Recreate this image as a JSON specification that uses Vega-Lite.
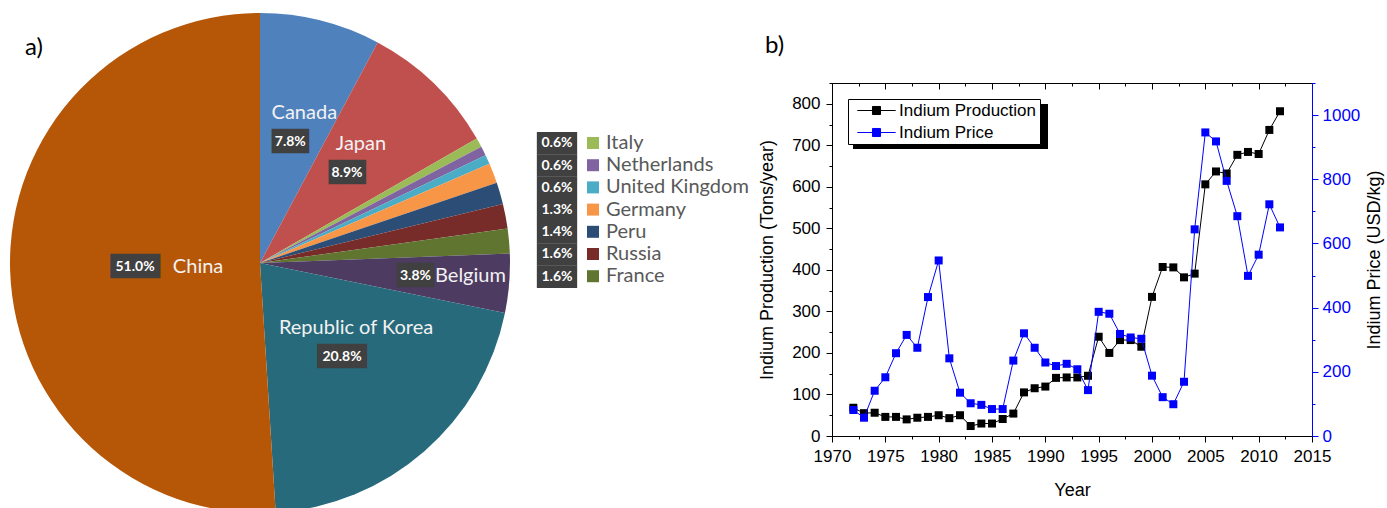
{
  "$schema": "https://vega.github.io/schema/vega-lite/v6.json",
  "background": "white",
  "padding": {"left": 10, "top": 13, "right": 0, "bottom": 0},
  "bounds": "flush",
  "spacing": 255,
  "config": {
    "view": {"stroke": null},
    "font": "Liberation Sans",
    "axis": {
      "labelFont": "Liberation Sans", "labelFontSize": 17, "labelColor": "black",
      "titleFont": "Liberation Sans", "titleFontSize": 18, "titleFontWeight": "normal", "titleColor": "black",
      "domainColor": "black", "tickColor": "black", "grid": false, "labelOverlap": false, "labelFlush": false,
      "domainWidth": 1, "tickWidth": 1
    }
  },
  "resolve": {"scale": {"color": "independent", "stroke": "independent"}, "legend": {"color": "independent", "stroke": "independent"}},
  "datasets": {
    "pie": [
      {"rank": 1, "country": "Canada", "share": 7.8, "label": "7.8%"},
      {"rank": 2, "country": "Japan", "share": 8.9, "label": "8.9%"},
      {"rank": 3, "country": "Italy", "share": 0.6, "label": "0.6%"},
      {"rank": 4, "country": "Netherlands", "share": 0.6, "label": "0.6%"},
      {"rank": 5, "country": "United Kingdom", "share": 0.6, "label": "0.6%"},
      {"rank": 6, "country": "Germany", "share": 1.3, "label": "1.3%"},
      {"rank": 7, "country": "Peru", "share": 1.4, "label": "1.4%"},
      {"rank": 8, "country": "Russia", "share": 1.6, "label": "1.6%"},
      {"rank": 9, "country": "France", "share": 1.6, "label": "1.6%"},
      {"rank": 10, "country": "Belgium", "share": 3.8, "label": "3.8%"},
      {"rank": 11, "country": "Republic of Korea", "share": 20.8, "label": "20.8%"},
      {"rank": 12, "country": "China", "share": 51.0, "label": "51.0%"}
    ],
    "indium": [
      {"year": 1972, "production": 68, "price": 81},
      {"year": 1973, "production": 55, "price": 57},
      {"year": 1974, "production": 56, "price": 141},
      {"year": 1975, "production": 46, "price": 183},
      {"year": 1976, "production": 46, "price": 258},
      {"year": 1977, "production": 40, "price": 315},
      {"year": 1978, "production": 44, "price": 275},
      {"year": 1979, "production": 46, "price": 433},
      {"year": 1980, "production": 50, "price": 547},
      {"year": 1981, "production": 43, "price": 242},
      {"year": 1982, "production": 50, "price": 135},
      {"year": 1983, "production": 24, "price": 102},
      {"year": 1984, "production": 30, "price": 97},
      {"year": 1985, "production": 30, "price": 84},
      {"year": 1986, "production": 41, "price": 84},
      {"year": 1987, "production": 54, "price": 235},
      {"year": 1988, "production": 105, "price": 320},
      {"year": 1989, "production": 115, "price": 275},
      {"year": 1990, "production": 119, "price": 229},
      {"year": 1991, "production": 140, "price": 218},
      {"year": 1992, "production": 141, "price": 225},
      {"year": 1993, "production": 141, "price": 208},
      {"year": 1994, "production": 145, "price": 143},
      {"year": 1995, "production": 239, "price": 387},
      {"year": 1996, "production": 200, "price": 381},
      {"year": 1997, "production": 231, "price": 318},
      {"year": 1998, "production": 231, "price": 307},
      {"year": 1999, "production": 215, "price": 303},
      {"year": 2000, "production": 335, "price": 188},
      {"year": 2001, "production": 407, "price": 121},
      {"year": 2002, "production": 406, "price": 99},
      {"year": 2003, "production": 382, "price": 169},
      {"year": 2004, "production": 391, "price": 644},
      {"year": 2005, "production": 606, "price": 946},
      {"year": 2006, "production": 637, "price": 918},
      {"year": 2007, "production": 632, "price": 795},
      {"year": 2008, "production": 677, "price": 685},
      {"year": 2009, "production": 684, "price": 499},
      {"year": 2010, "production": 679, "price": 565},
      {"year": 2011, "production": 737, "price": 722},
      {"year": 2012, "production": 782, "price": 650}
    ]
  },
  "hconcat": [
    {
      "width": 44,
      "height": 360,
      "data": {"name": "pie"},
      "title": {"text": "a)", "anchor": "start", "frame": "group", "font": "Lato", "fontSize": 24, "fontWeight": "normal", "color": "black", "baseline": "bottom", "offset": 23, "dx": -213, "dy": 94},
      "encoding": {
        "theta": {"field": "share", "type": "quantitative", "stack": true},
        "order": {"field": "rank", "type": "quantitative"}
      },
      "layer": [
        {
          "mark": {"type": "arc", "radius": 250},
          "encoding": {
            "color": {
              "field": "country", "type": "nominal",
              "scale": {
                "domain": ["Canada", "Japan", "Italy", "Netherlands", "United Kingdom", "Germany", "Peru", "Russia", "France", "Belgium", "Republic of Korea", "China"],
                "range": ["#4F81BD", "#C0504D", "#9BBB59", "#8064A2", "#4BACC6", "#F79646", "#2C4D75", "#772C2A", "#5F7530", "#4D3B62", "#276A7C", "#B65708"]
              },
              "legend": {
                "values": ["Italy", "Netherlands", "United Kingdom", "Germany", "Peru", "Russia", "France"],
                "orient": "none", "legendX": 345, "legendY": 50, "title": null,
                "symbolType": "square", "symbolSize": 144, "symbolStrokeWidth": 0,
                "labelFont": "Lato", "labelFontSize": 20, "labelColor": "#595959",
                "labelOffset": 3, "rowPadding": 2.2, "padding": 0
              }
            }
          }
        },
        {
          "mark": {"type": "text", "radius": 125, "font": "DejaVu Sans Mono", "fontSize": 20.6, "color": "#404040", "baseline": "middle", "align": "center"},
          "encoding": {"text": {"condition": [{"test": "datum.rank >= 11", "value": "████"}, {"test": "datum.rank <= 2", "value": "███"}], "value": ""}}
        },
        {
          "mark": {"type": "text", "radius": 125, "font": "Lato", "fontWeight": "bold", "fontSize": 14, "color": "white", "baseline": "middle", "align": "center"},
          "encoding": {"text": {"condition": {"test": "datum.rank <= 2 || datum.rank >= 11", "field": "label", "type": "nominal"}, "value": ""}}
        },
        {
          "mark": {"type": "text", "radius": 156, "font": "DejaVu Sans Mono", "fontSize": 20.6, "color": "#404040", "baseline": "middle", "align": "center"},
          "encoding": {"text": {"condition": {"test": "datum.rank == 10", "value": "███"}, "value": ""}}
        },
        {
          "mark": {"type": "text", "radius": 156, "font": "Lato", "fontWeight": "bold", "fontSize": 14, "color": "white", "baseline": "middle", "align": "center"},
          "encoding": {"text": {"condition": {"test": "datum.rank == 10", "field": "label", "type": "nominal"}, "value": ""}}
        },
        {
          "mark": {"type": "text", "radius": 125, "dx": 14, "dy": -29, "font": "Lato", "fontSize": 20, "color": "#F2F2F2", "baseline": "middle", "align": "center"},
          "encoding": {"text": {"condition": {"test": "datum.rank <= 2 || datum.rank == 11", "field": "country", "type": "nominal"}, "value": ""}}
        },
        {
          "mark": {"type": "text", "radius": 125, "dx": 63, "font": "Lato", "fontSize": 20, "color": "#F2F2F2", "baseline": "middle", "align": "center"},
          "encoding": {"text": {"condition": {"test": "datum.rank == 12", "field": "country", "type": "nominal"}, "value": ""}}
        },
        {
          "mark": {"type": "text", "radius": 156, "dx": 55, "font": "Lato", "fontSize": 20, "color": "#F2F2F2", "baseline": "middle", "align": "center"},
          "encoding": {"text": {"condition": {"test": "datum.rank == 10", "field": "country", "type": "nominal"}, "value": ""}}
        }
      ]
    },
    {
      "width": 40,
      "height": 253,
      "data": {"name": "pie"},
      "transform": [{"filter": "datum.share < 2"}],
      "encoding": {
        "y": {"field": "rank", "type": "quantitative", "scale": {"domain": [0.287, 11.668], "reverse": true, "nice": false, "zero": false}, "axis": null}
      },
      "layer": [
        {
          "mark": {"type": "point", "shape": "M-1.8,-1H1.8V1H-1.8Z", "size": 502, "filled": true, "fill": "#404040", "opacity": 1, "strokeWidth": 0},
          "encoding": {
            "stroke": {
              "field": "rank", "type": "quantitative",
              "scale": {"range": ["#000000", "#000000"]},
              "legend": {
                "type": "gradient", "direction": "horizontal", "orient": "none",
                "legendX": 316, "legendY": 21, "title": null, "padding": 0,
                "gradientLength": 195, "gradientThickness": 45, "gradientStrokeWidth": 0,
                "labelExpr": "''", "labelFontSize": 1, "labelOffset": 0
              }
            }
          }
        },
        {
          "mark": {"type": "text", "font": "Lato", "fontWeight": "bold", "fontSize": 14, "color": "white", "baseline": "middle", "align": "center"},
          "encoding": {"text": {"field": "label", "type": "nominal"}}
        }
      ]
    },
    {
      "width": 480,
      "height": 353,
      "data": {"name": "indium"},
      "view": {"stroke": "black", "strokeWidth": 1},
      "title": {"text": "b)", "anchor": "start", "frame": "group", "font": "Lato", "fontSize": 24, "fontWeight": "normal", "color": "black", "baseline": "bottom", "offset": 24, "dx": -67, "dy": 32},
      "layer": [
        {
          "encoding": {
            "x": {
              "field": "year", "type": "quantitative",
              "scale": {"domain": [1970, 2015], "nice": false, "zero": false},
              "axis": {
                "orient": "bottom", "title": "Year", "format": "d",
                "values": [1970, 1972.5, 1975, 1977.5, 1980, 1982.5, 1985, 1987.5, 1990, 1992.5, 1995, 1997.5, 2000, 2002.5, 2005, 2007.5, 2010, 2012.5, 2015],
                "labelExpr": "datum.value % 5 === 0 ? datum.label : ''",
                "tickSize": {"condition": {"test": "datum.value % 5 === 0", "value": 6}, "value": 3},
                "labelPadding": 6, "titlePadding": 17
              }
            },
            "y": {
              "field": "production", "type": "quantitative",
              "scale": {"domain": [0, 850], "nice": false},
              "axis": {
                "orient": "left", "title": "Indium Production (Tons/year)", "format": "d",
                "values": [0, 50, 100, 150, 200, 250, 300, 350, 400, 450, 500, 550, 600, 650, 700, 750, 800, 850],
                "labelExpr": "datum.value % 100 === 0 ? datum.label : ''",
                "tickSize": {"condition": {"test": "datum.value % 100 === 0", "value": 6}, "value": 3},
                "labelPadding": 6, "titlePadding": 15.5
              }
            },
            "color": {
              "datum": "Indium Production", "type": "nominal",
              "scale": {"domain": ["Indium Production", "Indium Price"], "range": ["#000000", "#0000ff"]},
              "legend": {
                "title": null, "orient": "none", "legendX": 16, "legendY": 16,
                "fillColor": "white", "strokeColor": "black", "padding": 3,
                "labelFont": "Liberation Sans", "labelFontSize": 17, "labelColor": "black",
                "symbolType": "M-3.2,0H3.2M-0.67,-0.67H0.67V0.67H-0.67Z",
                "symbolSize": 144, "symbolStrokeWidth": 1, "symbolOffset": 17,
                "labelOffset": 14, "rowPadding": 4
              }
            }
          },
          "layer": [
            {"mark": {"type": "line", "strokeWidth": 1}},
            {"mark": {"type": "point", "shape": "square", "filled": true, "size": 64, "opacity": 1}}
          ]
        },
        {
          "encoding": {
            "x": {
              "field": "year", "type": "quantitative",
              "scale": {"domain": [1970, 2015], "nice": false, "zero": false},
              "axis": {
                "orient": "top", "title": null, "labels": false,
                "values": [1970, 1972.5, 1975, 1977.5, 1980, 1982.5, 1985, 1987.5, 1990, 1992.5, 1995, 1997.5, 2000, 2002.5, 2005, 2007.5, 2010, 2012.5, 2015],
                "tickSize": {"condition": {"test": "datum.value % 5 === 0", "value": -6}, "value": -3}
              }
            },
            "y": {
              "field": "price", "type": "quantitative",
              "scale": {"domain": [0, 1100], "nice": false},
              "axis": {
                "orient": "right", "title": "Indium Price (USD/kg)", "titleAngle": 270, "format": "d",
                "values": [0, 100, 200, 300, 400, 500, 600, 700, 800, 900, 1000, 1100],
                "labelExpr": "datum.value % 200 === 0 ? datum.label : ''",
                "tickSize": {"condition": {"test": "datum.value % 200 === 0", "value": 6}, "value": 3},
                "domainColor": "#0000ff", "tickColor": "#0000ff", "labelColor": "#0000ff",
                "labelPadding": 4, "titlePadding": 24
              }
            },
            "color": {"datum": "Indium Price", "type": "nominal"}
          },
          "layer": [
            {"mark": {"type": "line", "strokeWidth": 1}},
            {"mark": {"type": "point", "shape": "square", "filled": true, "size": 64, "opacity": 1}}
          ]
        }
      ],
      "resolve": {"scale": {"y": "independent"}, "axis": {"x": "independent", "y": "independent"}}
    }
  ]
}
